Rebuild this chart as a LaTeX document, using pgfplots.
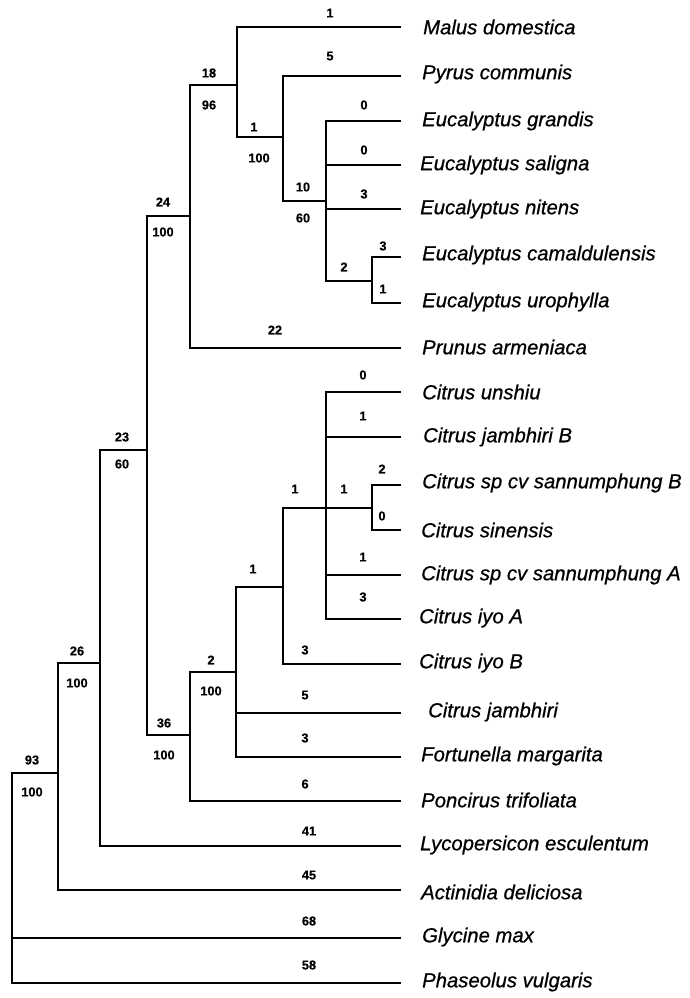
\documentclass[border=0pt]{standalone}
\usepackage{pgfplots}
\usepackage{pgfplotstable}
\pgfplotsset{compat=1.18}
\usepackage{fontspec}
\setmainfont{Liberation Sans}
\newfontfamily\spfont{Liberation Sans Italic}[BoldFont={Liberation Sans Italic}, BoldFeatures={FakeBold=0.7}]
\newfontfamily\numfont{Liberation Sans Bold}[BoldFont={Liberation Sans Bold}, BoldFeatures={FakeBold=0.5}]

% tree edges in picture units (y downward), nan rows separate paths
\pgfplotstableread{
x y
58 773
12 773
12 983
400 983
nan nan
12 938
400 938
nan nan
100 663
58 663
58 890
400 890
nan nan
147 450
100 450
100 846
400 846
nan nan
190 216
147 216
147 735
190 735
nan nan
237 85
190 85
190 348
400 348
nan nan
400 27
237 27
237 137
283 137
nan nan
400 76
283 76
283 201
326 201
nan nan
400 121
326 121
326 281
372 281
nan nan
326 165
400 165
nan nan
326 209
400 209
nan nan
400 257
372 257
372 303
400 303
nan nan
236 672
190 672
190 801
400 801
nan nan
283 587
236 587
236 757
400 757
nan nan
236 713
400 713
nan nan
326 508
283 508
283 664
400 664
nan nan
400 392
326 392
326 619
400 619
nan nan
326 437
400 437
nan nan
326 508
372 508
nan nan
326 575
400 575
nan nan
400 485
372 485
372 530
400 530
}\treelines

\pgfplotstableread[col sep=comma]{
x,y,label
423,27,Malus domestica
422,74,Pyrus communis
422,121,Eucalyptus grandis
420,165,Eucalyptus saligna
420,209,Eucalyptus nitens
422,255,Eucalyptus camaldulensis
422,302,Eucalyptus urophylla
422,347,Prunus armeniaca
422,392,Citrus unshiu
423,437,Citrus jambhiri B
422,483,Citrus sp cv sannumphung B
421,530,Citrus sinensis
421,575,Citrus sp cv sannumphung A
419,618,Citrus iyo A
419,663,Citrus iyo B
428,712,Citrus jambhiri
421,756,Fortunella margarita
421,800,Poncirus trifoliata
420,845,Lycopersicon esculentum
421,892,Actinidia deliciosa
422,937,Glycine max
422,982,Phaseolus vulgaris
}\species

\pgfplotstableread[col sep=comma]{
x,y,label
330,13,1
330,56,5
364,105,0
364,150,0
364,194,3
383,246,3
383,289,1
344,267,2
303,187,10
303,218,60
254,127,1
259,158,100
209,73,18
209,105,96
163,202,24
163,232,100
275,330,22
122,437,23
122,464,60
77,651,26
77,683,100
32,760,93
32,792,100
164,723,36
164,755,100
211,660,2
211,691,100
253,569,1
295,489,1
344,489,1
382,469,2
382,516,0
363,375,0
363,416,1
363,557,1
363,597,3
305,650,3
305,695,5
305,738,3
305,784,6
309,831,41
309,875,45
309,921,68
309,965,58
}\branchlabels

\begin{document}
\begin{tikzpicture}
\begin{axis}[
  width=690pt, height=998pt, scale only axis,
  xmin=0, xmax=690, ymin=0, ymax=998,
  y dir=reverse, hide axis, clip=false,
]
\addplot[black, line width=2.9pt, line cap=rect, line join=miter, unbounded coords=jump, mark=none]
  table[x=x, y=y] {\treelines};
\addplot[only marks, mark=*, mark size=0pt, mark options={draw=none, fill=none},
  point meta=explicit symbolic, nodes near coords, nodes near coords align={center},
  every node near coord/.append style={anchor=west, inner sep=0pt,
    font=\spfont\bfseries\fontsize{20.3}{21}\selectfont, text=black}]
  table[x=x, y=y, meta=label] {\species};
\addplot[only marks, mark=*, mark size=0pt, mark options={draw=none, fill=none},
  point meta=explicit symbolic, nodes near coords, nodes near coords align={center},
  every node near coord/.append style={anchor=center, inner sep=0pt,
    font=\numfont\bfseries\fontsize{12.8}{13}\selectfont, text=black}]
  table[x=x, y=y, meta=label] {\branchlabels};
\end{axis}
\pgfresetboundingbox
\path (current axis.south west) rectangle (current axis.north east);
\end{tikzpicture}
\end{document}
